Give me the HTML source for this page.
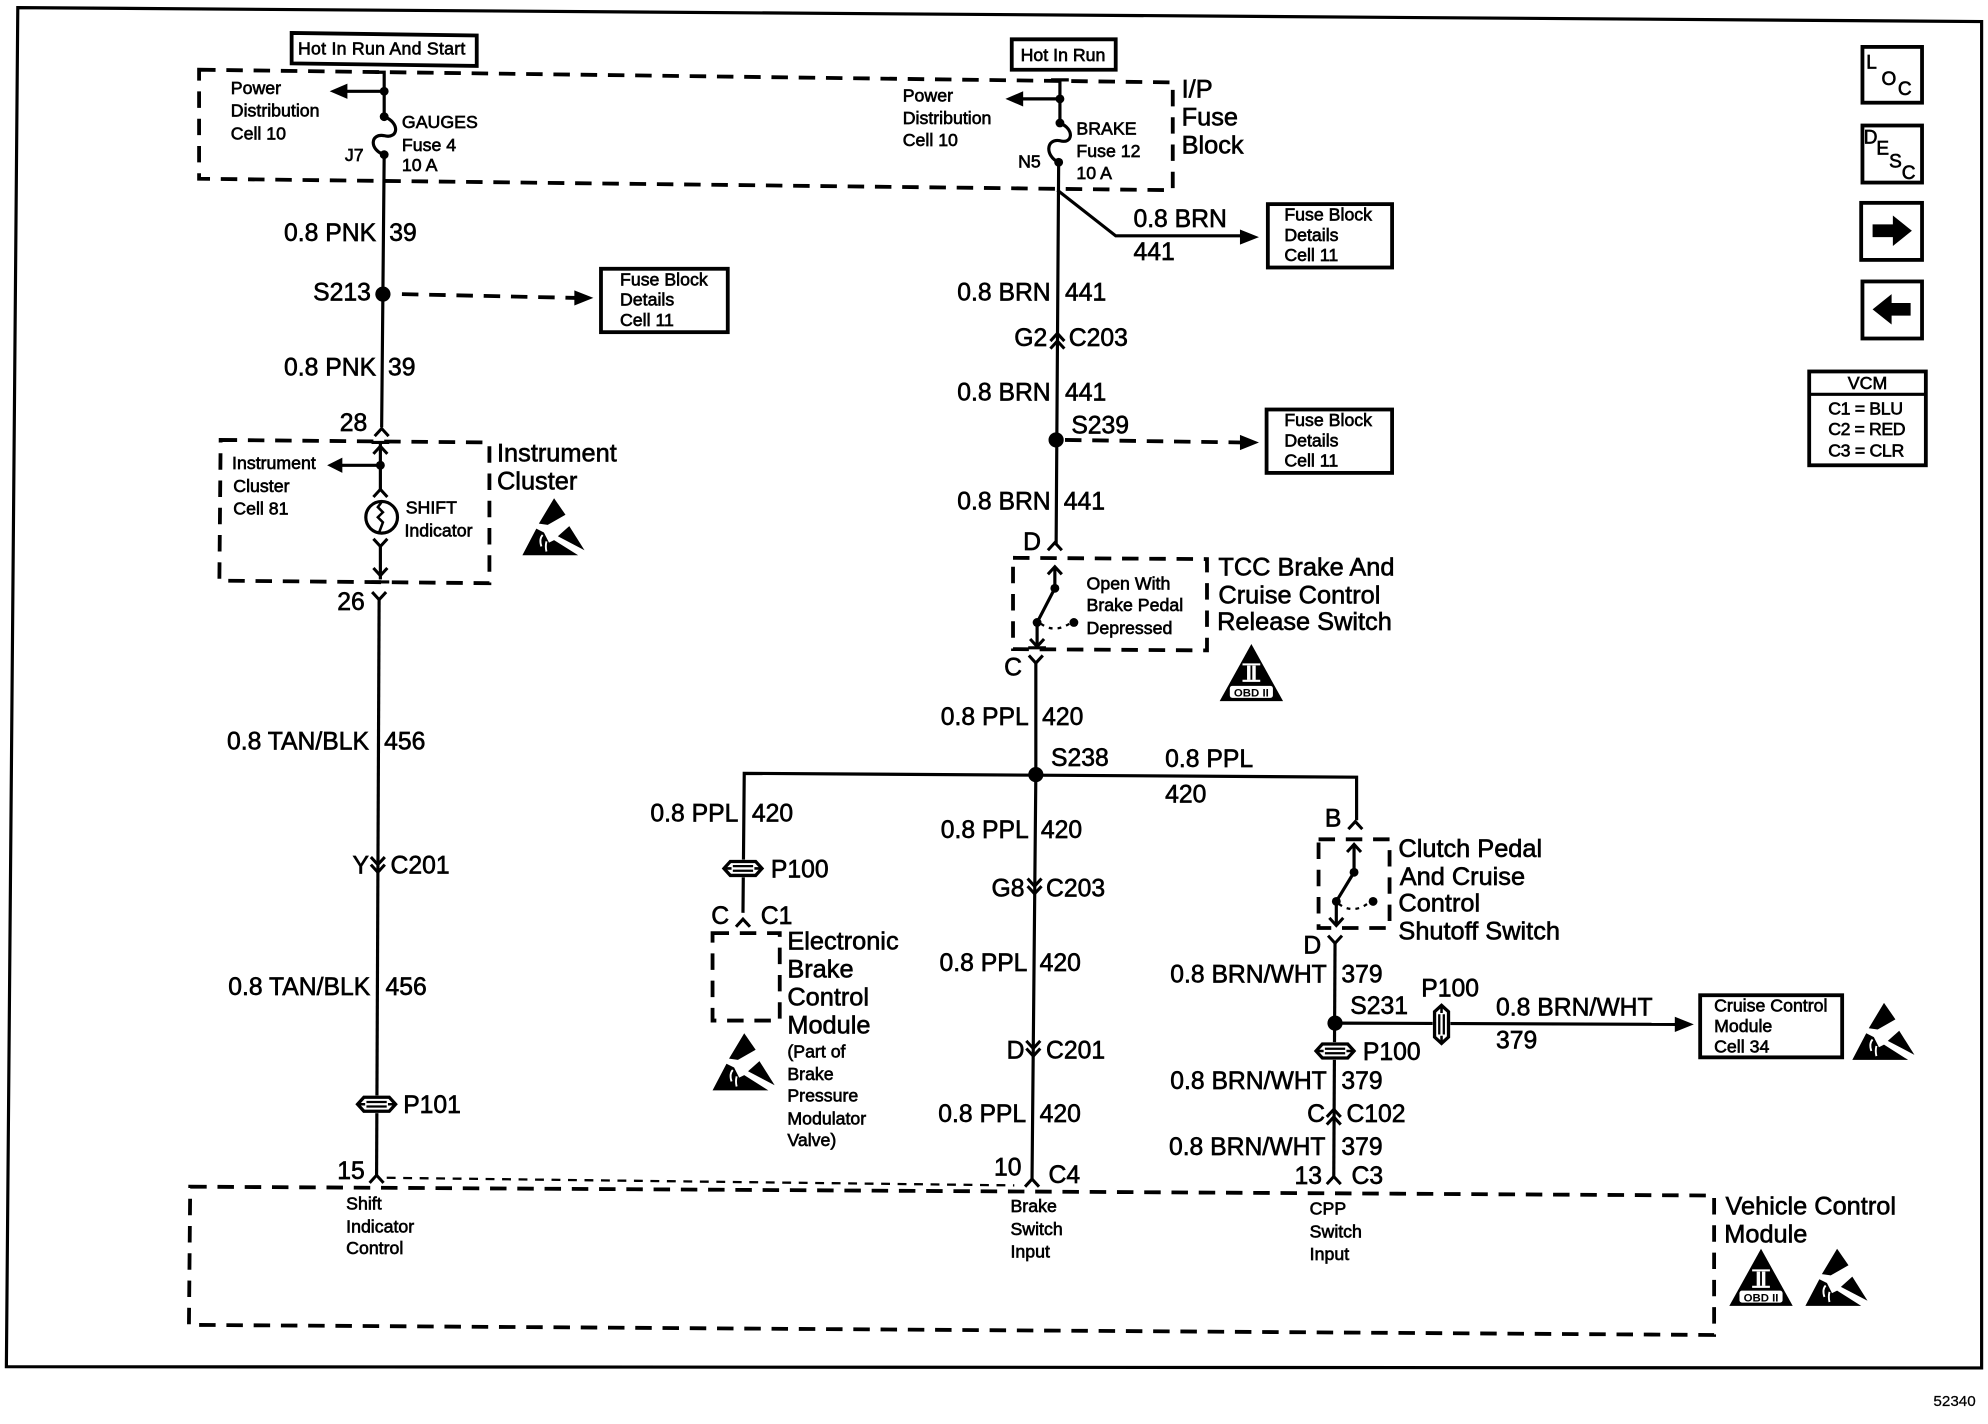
<!DOCTYPE html>
<html><head><meta charset="utf-8"><style>
html,body{margin:0;padding:0;background:#fff;width:1988px;height:1424px;overflow:hidden}
svg{display:block}
text{font-family:"Liberation Sans",sans-serif;fill:#000;stroke:#000;stroke-width:.5}
.l{font-size:20px}.m{font-size:19.5px}.s{font-size:14px}.t{font-size:15px}
.w{fill:none;stroke:#000;stroke-width:2.5}
.d{fill:none;stroke:#000;stroke-width:3;stroke-dasharray:13 8.5}
.b{fill:#fff;stroke:#000;stroke-width:3}
</style></head><body>
<svg width="1988" height="1424" viewBox="0 0 1568 1123.2" xmlns="http://www.w3.org/2000/svg">
<defs>
<polyline id="up" points="-5.5,5 0,-1 5.5,5" fill="none" stroke="#000" stroke-width="2.4"/>
<polyline id="dn" points="-5.5,-5 0,1 5.5,-5" fill="none" stroke="#000" stroke-width="2.4"/>
<g id="esd"><polygon points="25,0 34,13 20,21 13,20"/><polygon points="11,24 0,45 44,45 25,33 21,35 17,27"/><polygon points="37,22 49,41 28,30"/><path d="M15,38 q-2,-6 1,-9 M19,34 q-1,4 0,8" fill="none" stroke="#fff" stroke-width="1.5"/></g>
<g id="p" fill="none" stroke="#000"><path d="M-10,-5.5H10L15,0 10,5.5H-10L-15,0Z" stroke-width="2.6"/><path d="M-8,-1.8H8M-8,1.8H8" stroke-width="1.8"/><path d="M-15,0H-9M9,0H15" stroke-width="2"/></g>
</defs>

<!-- frame -->
<polygon points="14,6 1563,17 1563,1079 5,1078" fill="none" stroke="#000" stroke-width="2.5"/>

<!-- dashed boxes -->
<polygon class="d" points="157,55 925,65 925,150 157,141"/>
<polygon class="d" points="174,347 386,349 386,460 173,458"/>
<polygon class="d" points="799,440 952,441 952,513 799,512"/>
<polygon class="d" points="562,736 615,736 615,805 562,805"/>
<polygon class="d" points="1040,662 1096,662 1096,732 1040,732"/>
<polygon class="d" points="150,936 1352,943 1352,1053 149,1045"/>
<path d="M305,929 L800,935" fill="none" stroke="#000" stroke-width="1.8" stroke-dasharray="7 6"/>

<!-- top supply boxes -->
<polygon class="b" points="230,26 376,28 376,52 230,50"/>
<text class="s" x="235" y="43" textLength="132">Hot In Run And Start</text>
<polygon class="b" points="798,31 880,31 880,55 798,55"/>
<text class="s" x="805" y="48">Hot In Run</text>

<!-- left wire -->
<path class="w" d="M296,57 H303 V92 M303,122 L301,337"/>
<path d="M303,72 H270" class="w"/><polygon points="260,72 274,66 274,78"/>
<circle cx="303" cy="72" r="3.5"/><circle cx="303" cy="92" r="3.5"/><circle cx="303" cy="122" r="3.5"/>
<path class="w" d="M303,92 C316,97 314,110 303,107 C292,105 291,118 303,122"/>
<text class="s" x="182" y="74">Power</text><text class="s" x="182" y="92">Distribution</text><text class="s" x="182" y="110">Cell 10</text>
<text class="s" x="317" y="101">GAUGES</text><text class="s" x="317" y="119">Fuse 4</text><text class="s" x="317" y="135">10 A</text>
<text class="s" x="272" y="127">J7</text>
<text class="m" x="224" y="190">0.8 PNK</text><text class="m" x="307" y="190">39</text>
<circle cx="302" cy="232" r="6"/>
<text class="m" x="247" y="237">S213</text>
<path class="d" d="M317,232 L455,235"/><polygon points="468,235 453,229 453,241"/>
<rect class="b" x="474" y="212" width="100" height="50"/>
<text class="s" x="489" y="225">Fuse Block</text><text class="s" x="489" y="241">Details</text><text class="s" x="489" y="257">Cell 11</text>
<text class="m" x="224" y="296">0.8 PNK</text><text class="m" x="306" y="296">39</text>
<text class="m" x="268" y="340">28</text><use href="#up" x="301" y="339"/>
<use href="#up" x="300" y="353"/><path class="w" d="M300,350 V386"/><path class="w" d="M293,349 H307"/>
<path d="M300,367 H266" class="w"/><polygon points="258,367 270,361 270,373"/><circle cx="300" cy="367" r="3.5"/>
<use href="#up" x="300" y="387"/>
<circle cx="301" cy="408" r="12.5" fill="none" stroke="#000" stroke-width="2.5"/>
<path d="M301,396 l-3,4 4,4 -4,4 4,4 -3,8" fill="none" stroke="#000" stroke-width="2"/>
<use href="#dn" x="300" y="430"/><path class="w" d="M300,430 V457"/><use href="#dn" x="300" y="453"/><path class="w" d="M293,459 H307"/>
<text class="s" x="183" y="370">Instrument</text><text class="s" x="184" y="388">Cluster</text><text class="s" x="184" y="406">Cell 81</text>
<text class="s" x="320" y="405">SHIFT</text><text class="s" x="319" y="423">Indicator</text>
<text class="l" x="392" y="364">Instrument</text><text class="l" x="392" y="386">Cluster</text>
<use href="#esd" x="412" y="393"/>
<text class="m" x="266" y="481">26</text><use href="#dn" x="299" y="472"/>
<path class="w" d="M299,473 L297,927"/>
<text class="m" x="179" y="591">0.8 TAN/BLK</text><text class="m" x="303" y="591">456</text>
<text class="m" x="278" y="689">Y</text><text class="m" x="308" y="689">C201</text>
<use href="#dn" x="298" y="681"/><use href="#dn" x="298" y="687"/>
<text class="m" x="180" y="785">0.8 TAN/BLK</text><text class="m" x="304" y="785">456</text>
<rect x="282" y="864" width="30" height="14" fill="#fff"/><use href="#p" x="297" y="871"/><text class="m" x="318" y="878">P101</text>
<text class="m" x="266" y="930">15</text><use href="#up" x="297" y="928"/>
<text class="s" x="273" y="954">Shift</text><text class="s" x="273" y="972">Indicator</text><text class="s" x="273" y="989">Control</text>

<!-- centre wire, upper -->
<path class="w" d="M829,63 H843 M836,63 V97 M835,128 L833,430"/>
<path class="w" d="M836,78 H802"/><polygon points="793,78 807,72 807,84"/>
<circle cx="836" cy="78" r="3.5"/><circle cx="836" cy="97" r="3.5"/><circle cx="835" cy="128" r="3.5"/>
<path class="w" d="M836,97 C848,102 846,114 836,111 C825,109 824,123 835,128"/>
<text class="s" x="712" y="80">Power</text><text class="s" x="712" y="98">Distribution</text><text class="s" x="712" y="115">Cell 10</text>
<text class="s" x="849" y="106">BRAKE</text><text class="s" x="849" y="124">Fuse 12</text><text class="s" x="849" y="141">10 A</text>
<text class="s" x="803" y="132">N5</text>
<text class="l" x="932" y="77">I/P</text><text class="l" x="932" y="99">Fuse</text><text class="l" x="932" y="121">Block</text>
<path class="w" d="M834,150 L880,186 H980"/><polygon points="993,187 978,181 978,193"/>
<text class="m" x="894" y="179">0.8 BRN</text><text class="m" x="894" y="205">441</text>
<rect class="b" x="1000" y="161" width="98" height="50"/>
<text class="s" x="1013" y="174">Fuse Block</text><text class="s" x="1013" y="190">Details</text><text class="s" x="1013" y="206">Cell 11</text>
<text class="m" x="755" y="237">0.8 BRN</text><text class="m" x="840" y="237">441</text>
<text class="m" x="800" y="273">G2</text><text class="m" x="843" y="273">C203</text>
<use href="#up" x="834" y="264"/><use href="#up" x="834" y="270"/>
<text class="m" x="755" y="316">0.8 BRN</text><text class="m" x="840" y="316">441</text>
<text class="m" x="845" y="342">S239</text>
<circle cx="833" cy="347" r="6"/>
<path class="d" d="M840,347 L980,349"/><polygon points="993,349 978,343 978,355"/>
<rect class="b" x="999" y="323" width="99" height="50"/>
<text class="s" x="1013" y="336">Fuse Block</text><text class="s" x="1013" y="352">Details</text><text class="s" x="1013" y="368">Cell 11</text>
<text class="m" x="755" y="402">0.8 BRN</text><text class="m" x="839" y="402">441</text>
<text class="m" x="807" y="434">D</text><use href="#up" x="832" y="429"/>

<!-- TCC switch -->
<use href="#up" x="832" y="448"/><path class="w" d="M832,447 V464 L818,491 V510"/>
<path d="M811,511 H825" class="w"/><use href="#dn" x="818" y="509"/>
<circle cx="832" cy="464" r="3.5"/><circle cx="818" cy="491" r="3.5"/><circle cx="847" cy="491" r="3.5"/>
<path d="M821,492 Q832,500 845,491" fill="none" stroke="#000" stroke-width="1.8" stroke-dasharray="3 4"/>
<text class="s" x="857" y="465">Open With</text><text class="s" x="857" y="482">Brake Pedal</text><text class="s" x="857" y="500">Depressed</text>
<text class="l" x="961" y="454">TCC Brake And</text><text class="l" x="961" y="476">Cruise Control</text><text class="l" x="960" y="497">Release Switch</text>
<polygon points="987,508 962,553 1012,553"/>
<text x="987" y="536" text-anchor="middle" style="font-size:15px;fill:#fff;stroke:#fff;font-weight:bold">II</text>
<path d="M980,524 H994 M980,537 H994" stroke="#fff" stroke-width="1.6"/>
<rect x="970" y="541" width="34" height="9.5" fill="#fff" rx="2"/>
<text x="987" y="549.5" text-anchor="middle" style="font-size:9px;font-weight:bold;stroke-width:0">OBD II</text>
<text class="m" x="792" y="533">C</text><use href="#dn" x="817" y="522"/>

<!-- centre lower -->
<path class="w" d="M817,522 V611 L814,930"/>
<text class="m" x="742" y="572">0.8 PPL</text><text class="m" x="822" y="572">420</text>
<text class="m" x="829" y="604">S238</text>
<path class="w" d="M586,720 L587,610 L1070,613 V647"/>
<circle cx="817" cy="611" r="6"/>
<text class="m" x="919" y="605">0.8 PPL</text><text class="m" x="919" y="633">420</text>
<text class="m" x="513" y="648">0.8 PPL</text><text class="m" x="593" y="648">420</text>
<rect x="571" y="678" width="30" height="14" fill="#fff"/><use href="#p" x="586" y="685"/><text class="m" x="608" y="692">P100</text>
<text class="m" x="561" y="729">C</text><text class="m" x="600" y="729">C1</text><use href="#up" x="586" y="726"/>
<text class="l" x="621" y="749">Electronic</text><text class="l" x="621" y="771">Brake</text><text class="l" x="621" y="793">Control</text><text class="l" x="621" y="815">Module</text>
<text class="s" x="621" y="834">(Part of</text><text class="s" x="621" y="852">Brake</text><text class="s" x="621" y="869">Pressure</text><text class="s" x="621" y="887">Modulator</text><text class="s" x="621" y="904">Valve)</text>
<use href="#esd" x="562" y="815"/>
<text class="m" x="742" y="661">0.8 PPL</text><text class="m" x="821" y="661">420</text>
<text class="m" x="782" y="707">G8</text><text class="m" x="825" y="707">C203</text>
<use href="#dn" x="816" y="698"/><use href="#dn" x="816" y="704"/>
<text class="m" x="741" y="766">0.8 PPL</text><text class="m" x="820" y="766">420</text>
<text class="m" x="794" y="835">D</text><text class="m" x="825" y="835">C201</text>
<use href="#dn" x="815" y="826"/><use href="#dn" x="815" y="832"/>
<text class="m" x="740" y="885">0.8 PPL</text><text class="m" x="820" y="885">420</text>
<text class="m" x="784" y="927">10</text><text class="m" x="827" y="933">C4</text><use href="#up" x="814" y="931"/>
<text class="s" x="797" y="956">Brake</text><text class="s" x="797" y="974">Switch</text><text class="s" x="797" y="992">Input</text>

<!-- right branch -->
<text class="m" x="1045" y="652">B</text><use href="#up" x="1069" y="649"/>
<use href="#up" x="1068" y="667"/><path class="w" d="M1068,666 V688 L1054,711 V730"/>
<circle cx="1068" cy="688" r="3.5"/><circle cx="1054" cy="711" r="3.5"/><circle cx="1083" cy="711" r="3.5"/>
<path d="M1056,713 Q1068,722 1081,711" fill="none" stroke="#000" stroke-width="1.8" stroke-dasharray="3 4"/>
<use href="#dn" x="1054" y="729"/>
<text class="l" x="1103" y="676">Clutch Pedal</text><text class="l" x="1104" y="698">And Cruise</text><text class="l" x="1103" y="719">Control</text><text class="l" x="1103" y="741">Shutoff Switch</text>
<text class="m" x="1028" y="752">D</text><use href="#dn" x="1053" y="743"/>
<path class="w" d="M1053,743 L1052,928"/>
<text class="m" x="923" y="775">0.8 BRN/WHT</text><text class="m" x="1058" y="775">379</text>
<text class="m" x="1065" y="800">S231</text><text class="m" x="1121" y="786">P100</text>
<circle cx="1053" cy="807" r="6"/>
<path class="w" d="M1053,807 L1325,808"/><polygon points="1336,808 1321,802 1321,814"/>
<rect x="1130" y="793" width="14" height="30" fill="#fff"/><use href="#p" transform="translate(1137,808) rotate(90)"/>
<text class="m" x="1180" y="801">0.8 BRN/WHT</text><text class="m" x="1180" y="827">379</text>
<rect class="b" x="1341" y="785" width="112" height="49"/>
<text class="s" x="1352" y="798">Cruise Control</text><text class="s" x="1352" y="814">Module</text><text class="s" x="1352" y="830">Cell 34</text>
<use href="#esd" x="1461" y="791"/>
<rect x="1038" y="822" width="30" height="14" fill="#fff"/><use href="#p" x="1053" y="829"/><text class="m" x="1075" y="836">P100</text>
<text class="m" x="923" y="859">0.8 BRN/WHT</text><text class="m" x="1058" y="859">379</text>
<text class="m" x="1031" y="885">C</text><text class="m" x="1062" y="885">C102</text>
<use href="#up" x="1052" y="876"/><use href="#up" x="1052" y="882"/>
<text class="m" x="922" y="911">0.8 BRN/WHT</text><text class="m" x="1058" y="911">379</text>
<text class="m" x="1021" y="934">13</text><text class="m" x="1066" y="934">C3</text><use href="#up" x="1052" y="929"/>
<text class="s" x="1033" y="958">CPP</text><text class="s" x="1033" y="976">Switch</text><text class="s" x="1033" y="994">Input</text>

<!-- VCM label -->
<text class="l" x="1361" y="958">Vehicle Control</text><text class="l" x="1360" y="980">Module</text>
<polygon points="1389,985 1364,1030 1414,1030"/>
<text x="1389" y="1014" text-anchor="middle" style="font-size:15px;fill:#fff;stroke:#fff;font-weight:bold">II</text>
<path d="M1382,1002 H1396 M1382,1015 H1396" stroke="#fff" stroke-width="1.6"/>
<rect x="1372" y="1018" width="34" height="9.5" fill="#fff" rx="2"/>
<text x="1389" y="1026.5" text-anchor="middle" style="font-size:9px;font-weight:bold;stroke-width:0">OBD II</text>
<use href="#esd" x="1424" y="985"/>

<!-- right column -->
<rect class="b" x="1469" y="37" width="47" height="44"/>
<text class="t" x="1472" y="54">L</text><text class="t" x="1484" y="67">O</text><text class="t" x="1497" y="75">C</text>
<rect class="b" x="1469" y="99" width="47" height="45"/>
<text class="t" x="1470" y="113">D</text><text class="t" x="1480" y="122">E</text><text class="t" x="1490" y="132">S</text><text class="t" x="1500" y="141">C</text>
<rect class="b" x="1468" y="160" width="48" height="45"/>
<polygon points="1477,177 1493,177 1493,170 1508,182 1493,194 1493,187 1477,187"/>
<rect class="b" x="1469" y="222" width="47" height="45"/>
<polygon points="1507,239 1492,239 1492,232 1477,244 1492,256 1492,249 1507,249"/>
<rect class="b" x="1427" y="293" width="92" height="74"/>
<path class="w" d="M1427,311 H1519"/>
<text class="s" x="1473" y="307" text-anchor="middle">VCM</text>
<text class="s" x="1442" y="327" textLength="59">C1 = BLU</text><text class="s" x="1442" y="343" textLength="61">C2 = RED</text><text class="s" x="1442" y="360" textLength="60">C3 = CLR</text>

<text x="1525" y="1109" style="font-size:12px;stroke-width:.2">52340</text>
</svg>
</body></html>
